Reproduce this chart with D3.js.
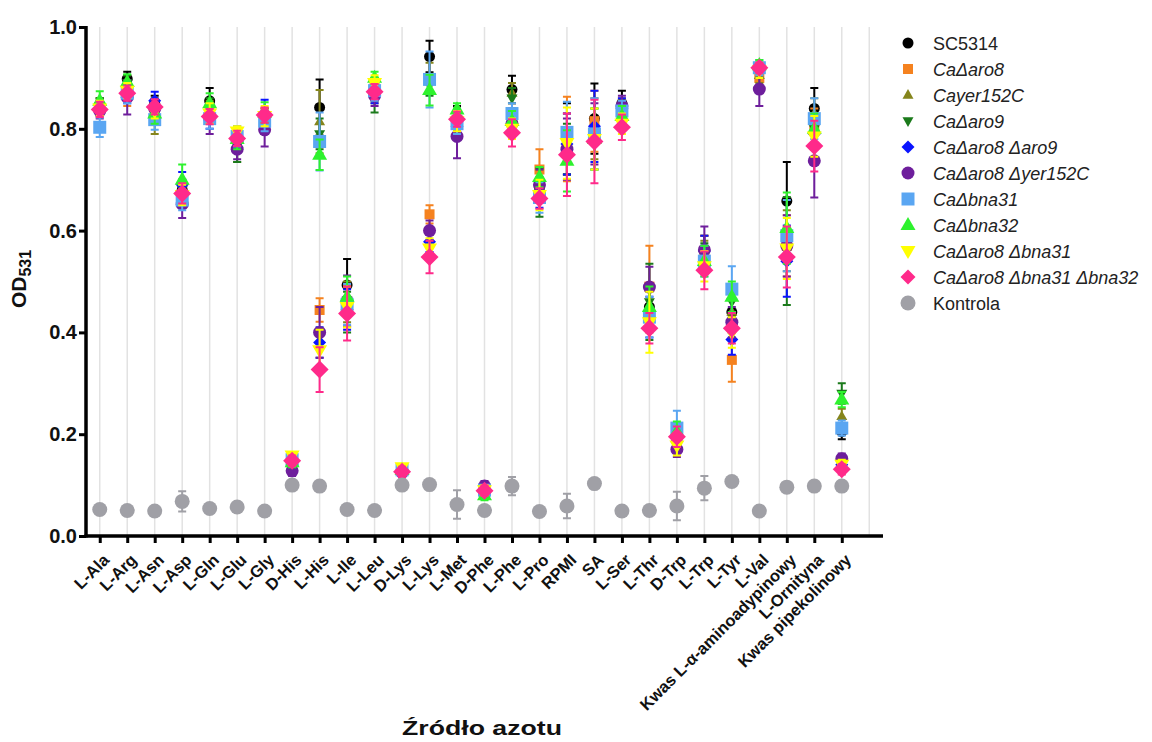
<!DOCTYPE html>
<html><head><meta charset="utf-8">
<script src="https://cdn.jsdelivr.net/npm/d3@7"></script>
<style>body{margin:0;background:#fff}svg{display:block}</style>
</head><body>
<svg id="c" width="1152" height="742"></svg>
<script>
const categories = ["L-Ala","L-Arg","L-Asn","L-Asp","L-Gln","L-Glu","L-Gly","D-His","L-His","L-Ile","L-Leu","D-Lys","L-Lys","L-Met","D-Phe","L-Phe","L-Pro","RPMI","SA","L-Ser","L-Thr","D-Trp","L-Trp","L-Tyr","L-Val","Kwas L-α-aminoadypinowy","L-Ornityna","Kwas pipekolinowy"];
const yTicks = [0, 0.2, 0.4, 0.6, 0.8, 1.0];
const seriesNames = ["SC5314","CaΔaro8","Cayer152C","CaΔaro9","CaΔaro8 Δaro9","CaΔaro8 Δyer152C","CaΔbna31","CaΔbna32","CaΔaro8 Δbna31","CaΔaro8 Δbna31 Δbna32","Kontrola"];

const sc5314    = [0.845,0.898,0.85,0.68,0.855,0.78,0.82,0.14,0.842,0.493,0.875,0.13,0.942,0.82,0.09,0.877,0.685,0.78,0.82,0.85,0.45,0.19,0.56,0.44,0.915,0.658,0.84,0.205];
const sc5314Err = [0.015,0.014,0.015,0.02,0.025,0.02,0.02,0.01,0.055,0.051,0.02,0.01,0.031,0.025,0.01,0.027,0.03,0.07,0.069,0.025,0.04,0.02,0.03,0.04,0.015,0.077,0.04,0.015];
const aro8      = [0.84,0.865,0.835,0.67,0.83,0.785,0.82,0.145,0.444,0.45,0.88,0.13,0.632,0.81,0.09,0.82,0.72,0.78,0.815,0.84,0.49,0.19,0.56,0.346,0.9,0.57,0.8,0.14];
const aro8Err   = [0.015,0.02,0.015,0.02,0.02,0.015,0.02,0.01,0.023,0.04,0.02,0.01,0.018,0.02,0.01,0.02,0.04,0.083,0.06,0.02,0.08,0.02,0.03,0.043,0.015,0.06,0.04,0.01];
const yer152C   = [0.845,0.89,0.82,0.675,0.835,0.77,0.815,0.145,0.814,0.46,0.87,0.13,0.9,0.815,0.09,0.87,0.69,0.77,0.8,0.835,0.44,0.19,0.55,0.44,0.905,0.58,0.83,0.235];
const yer152CErr= [0.015,0.015,0.03,0.02,0.02,0.035,0.02,0.01,0.062,0.04,0.02,0.01,0.03,0.02,0.01,0.02,0.03,0.06,0.06,0.02,0.04,0.02,0.03,0.04,0.015,0.06,0.03,0.015];
const aro9      = [0.845,0.89,0.84,0.68,0.84,0.765,0.81,0.14,0.79,0.44,0.865,0.13,0.885,0.82,0.085,0.86,0.675,0.76,0.78,0.83,0.46,0.185,0.545,0.46,0.915,0.56,0.8,0.28];
const aro9Err   = [0.015,0.015,0.02,0.02,0.02,0.03,0.02,0.01,0.03,0.04,0.033,0.01,0.02,0.02,0.01,0.02,0.048,0.05,0.06,0.02,0.075,0.02,0.03,0.03,0.015,0.106,0.03,0.02];
const aro8aro9  = [0.84,0.87,0.855,0.69,0.82,0.775,0.83,0.14,0.38,0.445,0.87,0.13,0.578,0.805,0.09,0.81,0.675,0.77,0.805,0.84,0.43,0.185,0.56,0.386,0.915,0.54,0.79,0.14];
const aro8aro9Err=[0.015,0.02,0.018,0.025,0.02,0.02,0.027,0.01,0.03,0.04,0.02,0.01,0.02,0.02,0.01,0.02,0.03,0.06,0.07,0.02,0.04,0.02,0.03,0.03,0.015,0.07,0.03,0.01];
const aro8yer   = [0.835,0.862,0.84,0.652,0.82,0.76,0.798,0.128,0.40,0.462,0.865,0.125,0.60,0.785,0.098,0.81,0.69,0.76,0.79,0.845,0.489,0.17,0.562,0.42,0.878,0.57,0.737,0.152];
const aro8yerErr= [0.015,0.034,0.015,0.027,0.03,0.02,0.033,0.01,0.05,0.05,0.02,0.01,0.02,0.043,0.01,0.02,0.03,0.06,0.06,0.02,0.04,0.015,0.046,0.03,0.033,0.06,0.072,0.01];
const bna31     = [0.803,0.87,0.818,0.66,0.82,0.785,0.815,0.15,0.775,0.455,0.875,0.13,0.897,0.81,0.09,0.83,0.665,0.793,0.79,0.835,0.43,0.212,0.54,0.485,0.92,0.59,0.82,0.212];
const bna31Err  = [0.019,0.02,0.02,0.02,0.02,0.02,0.02,0.01,0.057,0.04,0.02,0.01,0.055,0.02,0.01,0.02,0.03,0.06,0.07,0.02,0.04,0.034,0.03,0.045,0.015,0.07,0.04,0.015];
const bna32     = [0.855,0.892,0.83,0.70,0.85,0.78,0.832,0.145,0.749,0.47,0.90,0.13,0.876,0.838,0.08,0.815,0.705,0.737,0.78,0.825,0.45,0.205,0.54,0.47,0.925,0.605,0.80,0.268];
const bna32Err  = [0.019,0.015,0.02,0.03,0.02,0.02,0.02,0.01,0.03,0.04,0.012,0.01,0.03,0.012,0.01,0.02,0.02,0.06,0.06,0.02,0.04,0.02,0.03,0.03,0.01,0.07,0.03,0.015];
const aro8bna31 = [0.84,0.875,0.835,0.67,0.83,0.795,0.825,0.158,0.365,0.45,0.89,0.135,0.565,0.815,0.09,0.80,0.67,0.772,0.78,0.81,0.42,0.178,0.53,0.40,0.915,0.565,0.785,0.14];
const aro8bna31Err=[0.015,0.015,0.015,0.02,0.02,0.01,0.02,0.005,0.04,0.04,0.015,0.005,0.02,0.02,0.01,0.02,0.03,0.07,0.06,0.02,0.06,0.02,0.03,0.03,0.015,0.06,0.04,0.01];
const triple    = [0.838,0.87,0.843,0.673,0.824,0.781,0.827,0.148,0.327,0.437,0.873,0.126,0.548,0.819,0.089,0.792,0.663,0.749,0.775,0.803,0.408,0.195,0.522,0.408,0.92,0.548,0.766,0.131];
const tripleErr = [0.015,0.015,0.015,0.02,0.015,0.015,0.015,0.01,0.044,0.053,0.015,0.01,0.032,0.015,0.01,0.027,0.02,0.081,0.082,0.025,0.03,0.02,0.037,0.03,0.01,0.06,0.05,0.01];
const kontrola  = [0.052,0.05,0.049,0.068,0.054,0.057,0.049,0.1,0.098,0.052,0.05,0.1,0.101,0.062,0.05,0.098,0.048,0.059,0.103,0.049,0.05,0.059,0.094,0.107,0.049,0.096,0.098,0.098];
const kontrolaErr=[0.003,0.003,0.003,0.02,0.003,0.003,0.003,0.003,0.003,0.003,0.003,0.003,0.003,0.028,0.003,0.018,0.003,0.024,0.003,0.003,0.003,0.028,0.024,0.008,0.003,0.003,0.003,0.003];

const seriesValues = [sc5314,aro8,yer152C,aro9,aro8aro9,aro8yer,bna31,bna32,aro8bna31,triple,kontrola];
const seriesErrors = [sc5314Err,aro8Err,yer152CErr,aro9Err,aro8aro9Err,aro8yerErr,bna31Err,bna32Err,aro8bna31Err,tripleErr,kontrolaErr];
const seriesColors = ["#000000","#f5821f","#85851c","#1b7a1b","#0a14ff","#6e1e9c","#5aa6f2","#2ef22e","#ffff00","#ff2a8a","#a0a0a6"];
const seriesShapes = ["circle","square","triUp","triDown","diamond","circle","square","triUp","triDown","diamond","circle"];
const seriesSizes  = [11,10,11,11,13,13,13,15,15,18,15];
const seriesItalic = [false,true,true,true,true,true,true,true,true,true,false];

const series = seriesNames.map((n,i)=>({name:n, values:seriesValues[i], err:seriesErrors[i], color:seriesColors[i], shape:seriesShapes[i], size:seriesSizes[i], italic:seriesItalic[i]}));

const svg = d3.select("#c");
const FONT = "Arial, 'Liberation Sans', sans-serif";
const x = d3.scaleLinear().domain([-0.5, categories.length + 0.5]).range([86, 883]);
const y = d3.scaleLinear().domain([0, 1]).range([536, 27]);

function shapePath(shape, s) {
  if (shape === "circle") return d3.symbol(d3.symbolCircle, Math.PI * (s/2) * (s/2))();
  if (shape === "square") return `M${-s/2},${-s/2}h${s}v${s}h${-s}Z`;
  if (shape === "diamond") { const r = s/2; return `M0,${-r}L${r},0L0,${r}L${-r},0Z`; }
  const h = s * 0.87;
  if (shape === "triUp") return `M0,${-h*0.62}L${s/2},${h*0.38}L${-s/2},${h*0.38}Z`;
  return `M0,${h*0.62}L${s/2},${-h*0.38}L${-s/2},${-h*0.38}Z`;
}

// gridlines
const gridIdx = d3.range(categories.length + 1);
svg.append("g").selectAll("line").data(gridIdx).join("line")
  .attr("x1", d=>x(d)).attr("x2", d=>x(d)).attr("y1", y(1)).attr("y2", y(0))
  .attr("stroke", "#e2e2e2").attr("stroke-width", 1.5);

// series
series.forEach(s => {
  const g = svg.append("g");
  const pts = s.values.map((v,i)=>({i, v, e:s.err[i]}));
  g.selectAll("path.eb").data(pts).join("path").attr("class","eb")
    .attr("d", d => {
      const cx = x(d.i), t = y(d.v + d.e), b = y(d.v - d.e);
      return `M${cx},${t}V${b}M${cx-4},${t}H${cx+4}M${cx-4},${b}H${cx+4}`;
    })
    .attr("stroke", s.color).attr("stroke-width", 2).attr("fill", "none");
  g.selectAll("path.m").data(pts).join("path").attr("class","m")
    .attr("transform", d => `translate(${x(d.i)},${y(d.v)})`)
    .attr("d", shapePath(s.shape, s.size))
    .attr("fill", s.color);
});

// axes
const yAxis = d3.axisLeft(y).tickValues(yTicks).tickFormat(d3.format(".1f")).tickSize(7).tickPadding(2);
const yg = svg.append("g").attr("transform", "translate(86,0)").call(yAxis);
yg.select(".domain").attr("stroke-width", 3.5).attr("d", `M0,${y(1)-1}V${y(0)+1.5}`);
yg.selectAll(".tick line").attr("stroke-width", 3);
yg.selectAll(".tick text").attr("font-family", FONT).attr("font-size", 20).attr("font-weight", "bold").attr("fill", "#111");

const xAxis = d3.axisBottom(x).tickValues(d3.range(categories.length)).tickFormat(i => categories[i]).tickSize(7).tickPadding(4);
const xg = svg.append("g").attr("transform", "translate(0,536)").call(xAxis);
xg.select(".domain").attr("stroke-width", 3.5).attr("d", `M84.5,0H883`);
xg.selectAll(".tick line").attr("stroke-width", 3);
xg.selectAll(".tick text").attr("font-family", FONT).attr("font-size", 16.5).attr("font-weight", "bold").attr("fill", "#111")
  .attr("text-anchor", "end").attr("dy", null).attr("y", 0)
  .attr("transform", "translate(10,25) rotate(-45)");

// axis titles
const yt = svg.append("text").attr("transform", "translate(26,279) rotate(-90)")
  .attr("text-anchor", "middle").attr("font-family", FONT).attr("font-weight", "bold").attr("font-size", 21).attr("fill", "#111");
yt.append("tspan").text("OD");
yt.append("tspan").attr("font-size", 16).attr("dy", 5).text("531");

svg.append("text").attr("x", 482).attr("y", 735).attr("text-anchor", "middle")
  .attr("textLength", 160).attr("lengthAdjust", "spacingAndGlyphs")
  .attr("font-family", FONT).attr("font-weight", "bold").attr("font-size", 21).attr("fill", "#111").text("Źródło azotu");

// legend
const lg = svg.append("g");
series.forEach((s, k) => {
  const ly = 43 + k * 26;
  lg.append("path").attr("transform", `translate(908,${ly})`).attr("d", shapePath(s.shape, Math.min(s.size, 15))).attr("fill", s.color);
  lg.append("text").attr("x", 933).attr("y", ly + 6.5).attr("font-family", FONT).attr("font-size", 18)
    .attr("font-style", s.italic ? "italic" : "normal").attr("fill", "#222").text(s.name);
});
</script>
</body></html>
